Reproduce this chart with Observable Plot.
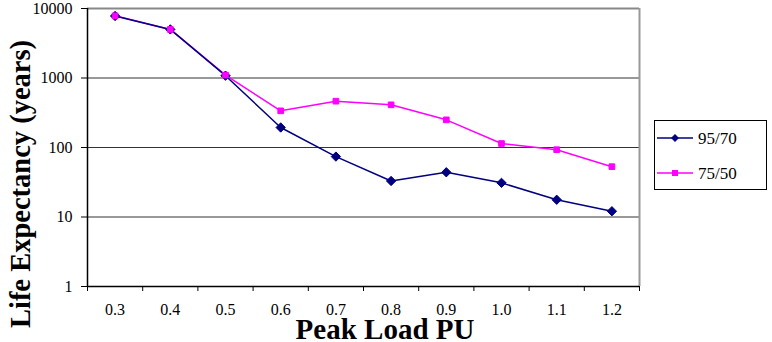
<!DOCTYPE html>
<html>
<head>
<meta charset="utf-8">
<script src="https://cdn.jsdelivr.net/npm/d3@7"></script>
<script src="https://cdn.jsdelivr.net/npm/@observablehq/plot@0.6"></script>
<style>
  html, body { margin: 0; padding: 0; background: #fff; overflow: hidden; }
  #wrap { position: relative; width: 772px; height: 342px; font-family: "Liberation Serif", "Times New Roman", serif; }
  #ytitle { position: absolute; left: 21px; top: 184px; transform: translate(-50%, -50%) rotate(-90deg); white-space: nowrap; font-weight: bold; font-size: 28.5px; line-height: 1; }
  #xtitle { position: absolute; left: 385px; top: 341px; transform: translate(-50%, -100%); white-space: nowrap; font-weight: bold; font-size: 29px; line-height: 0.8; }
  #legend { position: absolute; left: 654px; top: 120px; width: 113px; height: 70px; border: 1px solid #000; box-sizing: border-box; }
  #legend svg { display: block; }
</style>
</head>
<body>
<div id="wrap">
  <div id="chart"></div>
  <div id="ytitle">Life Expectancy (years)</div>
  <div id="xtitle">Peak Load PU</div>
  <div id="legend"></div>
</div>
<script>
const peakLoad = [0.3, 0.4, 0.5, 0.6, 0.7, 0.8, 0.9, 1.0, 1.1, 1.2];
const series9570 = [7800, 5000, 1080, 194, 74, 33, 44, 31, 17.7, 12.1];
const series7550 = [7850, 5000, 1100, 337, 464, 411, 250, 114, 93, 53];
const seriesNames = ["95/70", "75/50"];
const seriesColors = ["#000080", "#FF00FF"];
const yTicks = [1, 10, 100, 1000, 10000];
const yGrid = [10, 100, 1000];
const xBounds = [0.25, 0.35, 0.45, 0.55, 0.65, 0.75, 0.85, 0.95, 1.05, 1.15, 1.25];
const SERIF = "'Liberation Serif', 'Times New Roman', Times, serif";

const rows = [];
peakLoad.forEach((p, i) => {
  rows.push({x: p, y: series9570[i], s: seriesNames[0]});
  rows.push({x: p, y: series7550[i], s: seriesNames[1]});
});
const s0 = rows.filter(d => d.s === seriesNames[0]);
const s1 = rows.filter(d => d.s === seriesNames[1]);

const chart = Plot.plot({
  width: 772,
  height: 342,
  marginLeft: 87,
  marginRight: 133,
  marginTop: 8,
  marginBottom: 56,
  style: {fontFamily: SERIF, fontSize: "16px", color: "#000", background: "#fff"},
  x: {domain: [0.25, 1.25]},
  y: {type: "log", domain: [1, 10000]},
  marks: [
    Plot.ruleY(yGrid, {y: d => d, stroke: "#333", strokeWidth: 1}),
    Plot.ruleY([10000], {y: d => d, stroke: "#888", strokeWidth: 2}),
    Plot.ruleX([1.25], {x: d => d, stroke: "#999", strokeWidth: 2}),
    Plot.axisY({ticks: yTicks, tickFormat: d => String(d), tickSize: 6, tickPadding: 9, label: null, fontSize: 16}),
    Plot.axisX({ticks: peakLoad, tickFormat: d3.format(".1f"), tickSize: 0, tickPadding: 17, label: null, fontSize: 16}),
    Plot.axisX({ticks: xBounds, tickFormat: () => "", tickSize: 5, label: null}),
    Plot.ruleY([1], {y: d => d, stroke: "#000", strokeWidth: 1.5}),
    Plot.ruleX([0.25], {x: d => d, stroke: "#000", strokeWidth: 1.5}),
    Plot.line(s1, {x: "x", y: "y", stroke: seriesColors[1], strokeWidth: 1.5}),
    Plot.line(s0, {x: "x", y: "y", stroke: seriesColors[0], strokeWidth: 1.5}),
    Plot.dot(s0, {x: "x", y: "y", symbol: "diamond2", r: 4.2, fill: seriesColors[0], stroke: seriesColors[0], strokeWidth: 1}),
    Plot.dot(s1, {x: "x", y: "y", symbol: "square2", r: 3.6, fill: seriesColors[1], stroke: seriesColors[1], strokeWidth: 1})
  ]
});
document.getElementById("chart").appendChild(chart);
d3.select(chart).selectAll("text").style("font-family", SERIF);

// Legend
const lg = d3.select("#legend").append("svg").attr("width", 111).attr("height", 68);
seriesNames.forEach((name, i) => {
  const yy = 17 + i * 35;
  lg.append("line").attr("x1", 2).attr("x2", 38).attr("y1", yy).attr("y2", yy)
    .attr("stroke", seriesColors[i]).attr("stroke-width", 1.5);
  if (i === 0) {
    lg.append("path").attr("d", d3.symbol(d3.symbolDiamond2, 40)())
      .attr("transform", `translate(20,${yy})`).attr("fill", seriesColors[i]);
  } else {
    lg.append("rect").attr("x", 17).attr("y", yy - 3).attr("width", 6).attr("height", 6).attr("fill", seriesColors[i]);
  }
  lg.append("text").attr("x", 43).attr("y", yy + 6).text(name)
    .attr("font-size", 17).style("font-family", SERIF);
});
</script>
</body>
</html>
